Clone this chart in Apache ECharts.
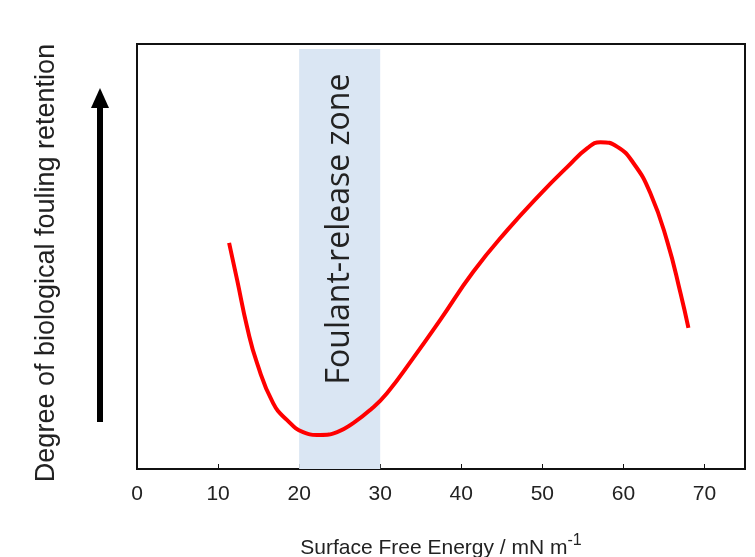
<!DOCTYPE html>
<html>
<head>
<meta charset="utf-8">
<script src="https://cdn.jsdelivr.net/npm/echarts@6/dist/echarts.min.js"></script>
<style>html,body{margin:0;padding:0;background:#fff;}#c{width:755px;height:557px;}</style>
</head>
<body>
<div id="c"></div>
<script>
// Curve (x = surface free energy, y = relative fouling retention)
const curveX = [11.36, 12.35, 13.58, 14.81, 16.79, 18.52, 20.49, 22.59, 24.69, 26.67, 28.77, 30.86, 34.07, 37.41, 41.48, 45.68, 49.75, 53.09, 55.56, 57.16, 59.26, 61.23, 63.33, 65.43, 67.04, 68.02];
const curveY = [53.2, 44.5, 33.4, 24.9, 15.5, 11.5, 8.7, 8.0, 8.7, 10.8, 13.9, 17.9, 26.1, 35.1, 46.4, 56.2, 64.7, 71.1, 75.5, 76.9, 75.8, 72.0, 64.9, 53.4, 41.4, 33.2];
const zoneRange = [20, 30];
const xTicks = [0, 10, 20, 30, 40, 50, 60, 70];
const zoneLabel = 'Foulant-release zone';
const yTitle = 'Degree of biological fouling retention';

const chart = echarts.init(document.getElementById('c'), null, {renderer: 'canvas'});
const data = curveX.map((x, i) => [x, curveY[i]]);
const FONT = '"Liberation Sans", Arial, sans-serif';
chart.setOption({
  backgroundColor: '#ffffff',
  animation: false,
  grid: {left: 137, right: 10, top: 44, bottom: 88, show: true, borderColor: '#111', borderWidth: 2,
    backgroundColor: 'transparent', containLabel: false, outerBoundsMode: 'none'},
  xAxis: {
    type: 'value', min: 0, max: 75, interval: 10,
    axisLine: {show: true, lineStyle: {color: '#111', width: 2}},
    axisTick: {show: true, inside: true, length: 5, lineStyle: {color: '#111', width: 1}},
    axisLabel: {color: '#222', fontSize: 21, fontFamily: FONT, margin: 15,
      customValues: xTicks, formatter: v => String(v)},
    splitLine: {show: false},
    name: 'Surface Free Energy / mN m{sup|-1}',
    nameLocation: 'middle', nameGap: 64,
    nameTextStyle: {color: '#222', fontSize: 21, fontFamily: FONT,
      rich: {sup: {fontSize: 16, verticalAlign: 'top', padding: [0,0,14,0], color: '#222', fontFamily: FONT}}}
  },
  yAxis: {
    type: 'value', min: 0, max: 100,
    axisLine: {show: true, lineStyle: {color: '#111', width: 2}},
    axisTick: {show: false}, axisLabel: {show: false}, splitLine: {show: false}
  },
  graphic: [
    {type: 'text', x: 47, y: 263, rotation: Math.PI/2,
      style: {text: yTitle, fill: '#222', font: '27px "Liberation Sans", Arial', textAlign: 'center', textVerticalAlign: 'middle'}},
    {type: 'group', children: [
      {type: 'rect', shape: {x: 97, y: 104, width: 6, height: 318}, style: {fill: '#000'}},
      {type: 'polygon', shape: {points: [[100, 88], [91, 108], [109, 108]]}, style: {fill: '#000'}}
    ]}
  ],
  series: [{
    type: 'line', data: data, smooth: 0.5, symbol: 'none',
    lineStyle: {color: '#ff0000', width: 4},
    z: 5,
    markArea: {
      silent: true,
      itemStyle: {color: '#dae6f3'},
      label: {show: true, position: 'inside', formatter: zoneLabel, rotate: 90, color: '#222', fontSize: 32, fontFamily: 'Open Sans', offset: [30, 0]},
      data: [[{coord: [zoneRange[0], 0]}, {coord: [zoneRange[1], 98.8]}]]
    }
  }]
});
</script>
</body>
</html>
